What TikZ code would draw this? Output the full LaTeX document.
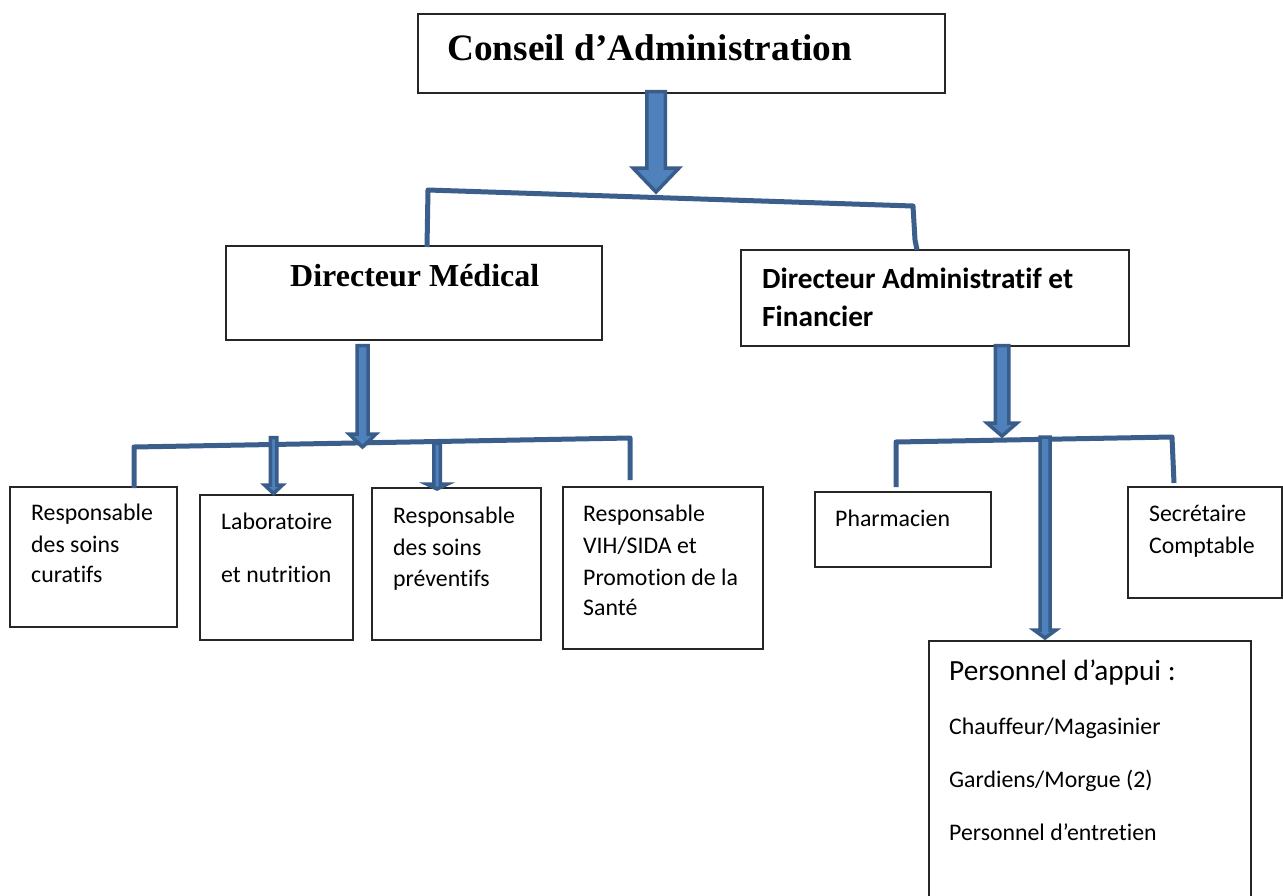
\documentclass[tikz,border=0pt]{standalone}
\usepackage{fontspec}
\setmainfont{Carlito}[Ligatures=NoCommon]
\newfontfamily\tnr{Liberation Serif}
\definecolor{arrfill}{HTML}{4F81BD}
\definecolor{arrline}{HTML}{385D8A}
\definecolor{brk}{HTML}{3B5E8D}
% name, x, ytop, yhead, ytip, shaft half width, head half width
\newcommand{\blockarr}[7]{%
  \draw[barrow] ({#2-#6},#3) -- ({#2+#6},#3) -- ({#2+#6},#4) -- ({#2+#7},#4)
    -- (#2,#5) coordinate (#1) -- ({#2-#7},#4) -- ({#2-#6},#4) -- cycle;}
\tikzset{
  box/.style={draw=black!85, line width=1.3pt, rectangle, inner sep=0pt, outer sep=0pt, anchor=north west},
  lbl/.style={anchor=base west, inner sep=0pt, font=\fontsize{23.8}{28}\selectfont},
  biglbl/.style={anchor=base west, inner sep=0pt, font=\fontsize{29.3}{34}\selectfont},
  barrow/.style={fill=arrfill, draw=arrline, line width=3.5pt, line join=miter},
  brkt/.style={draw=brk, line width=5pt, line join=round},
}
\begin{document}
\begin{tikzpicture}[x=1pt,y=-1pt]
\useasboundingbox (0,0) rectangle (1283,895);
\fill[white] (0,0) rectangle (1283,895);
\clip (0,0) rectangle (1283,895);

% boxes
\node[box, minimum width=527pt, minimum height=79pt] (ca) at (418,14) {};
\node[box, minimum width=376pt, minimum height=94pt] (dm) at (226,246) {};
\node[box, minimum width=388pt, minimum height=96pt] (daf) at (741,250) {};
\node[box, minimum width=167pt, minimum height=140pt] (cur) at (10,487) {};
\node[box, minimum width=153pt, minimum height=145pt] (lab) at (200,495) {};
\node[box, minimum width=169pt, minimum height=152pt] (prev) at (372,488) {};
\node[box, minimum width=200pt, minimum height=162pt] (vih) at (563,487) {};
\node[box, minimum width=176pt, minimum height=75pt] (pha) at (815,492) {};
\node[box, minimum width=154pt, minimum height=111pt] (sec) at (1128,487) {};
\node[box, minimum width=322pt, minimum height=280pt] (per) at (929,641) {};

% texts
\node[anchor=base west, inner sep=0pt, font=\tnr\bfseries\fontsize{37.3}{40}\selectfont] (tca) at (447,60) {Conseil d’Administration};
\node[anchor=base west, inner sep=0pt, font=\tnr\bfseries\fontsize{32}{36}\selectfont] (tdm) at (290,286) {Directeur Médical};
\node[biglbl, font=\bfseries\fontsize{29.3}{34}\selectfont] (tdaf1) at (762,288) {Directeur Administratif et};
\node[biglbl, font=\bfseries\fontsize{29.3}{34}\selectfont] (tdaf2) at (762,326) {Financier};

\node[lbl] (tcur1) at (31,520) {Responsable};
\node[lbl] (tcur2) at (31,552) {des soins};
\node[lbl] (tcur3) at (31,582) {curatifs};

\node[lbl] (tlab1) at (221,529) {Laboratoire};
\node[lbl] (tlab2) at (221,582) {et nutrition};

\node[lbl] (tprev1) at (393,523) {Responsable};
\node[lbl] (tprev2) at (393,555) {des soins};
\node[lbl] (tprev3) at (393,586) {préventifs};

\node[lbl] (tvih1) at (583,521) {Responsable};
\node[lbl] (tvih2) at (583,553) {VIH/SIDA et};
\node[lbl] (tvih3) at (583,585) {Promotion de la};
\node[lbl] (tvih4) at (583,615) {Santé};

\node[lbl] (tpha) at (835,526) {Pharmacien};

\node[lbl] (tsec1) at (1149,521) {Secrétaire};
\node[lbl] (tsec2) at (1149,553) {Comptable};

\node[biglbl] (tper0) at (949,680) {Personnel d’appui :};
\node[lbl] (tper1) at (949,734) {Chauffeur/Magasinier};
\node[lbl] (tper2) at (949,787) {Gardiens/Morgue (2)};
\node[lbl] (tper3) at (949,840) {Personnel d’entretien};

% brackets
\draw[brkt] (427,247) -- (428,190) -- (913,206) -- (915,240) -- (917,250);
\draw[brkt] (134,488) -- (134,447) -- (630,438) -- (630,480);
\draw[brkt] (896,487) -- (896,442) -- (1172,437) -- (1174,483);

% block arrows
\blockarr{a1}{656}{91.5}{168}{192}{9.25}{23}
\blockarr{a2}{362.5}{345.5}{434}{447}{5.5}{13.5}
\blockarr{a3}{273.5}{437.5}{485}{493.5}{3.25}{9}
\blockarr{a4}{437}{443}{484}{489}{3.25}{10.5}
\blockarr{a5}{1002}{345.5}{423}{436}{6.75}{15}
\blockarr{a6}{1045}{437}{630}{638}{5}{11}
\end{tikzpicture}
\end{document}
